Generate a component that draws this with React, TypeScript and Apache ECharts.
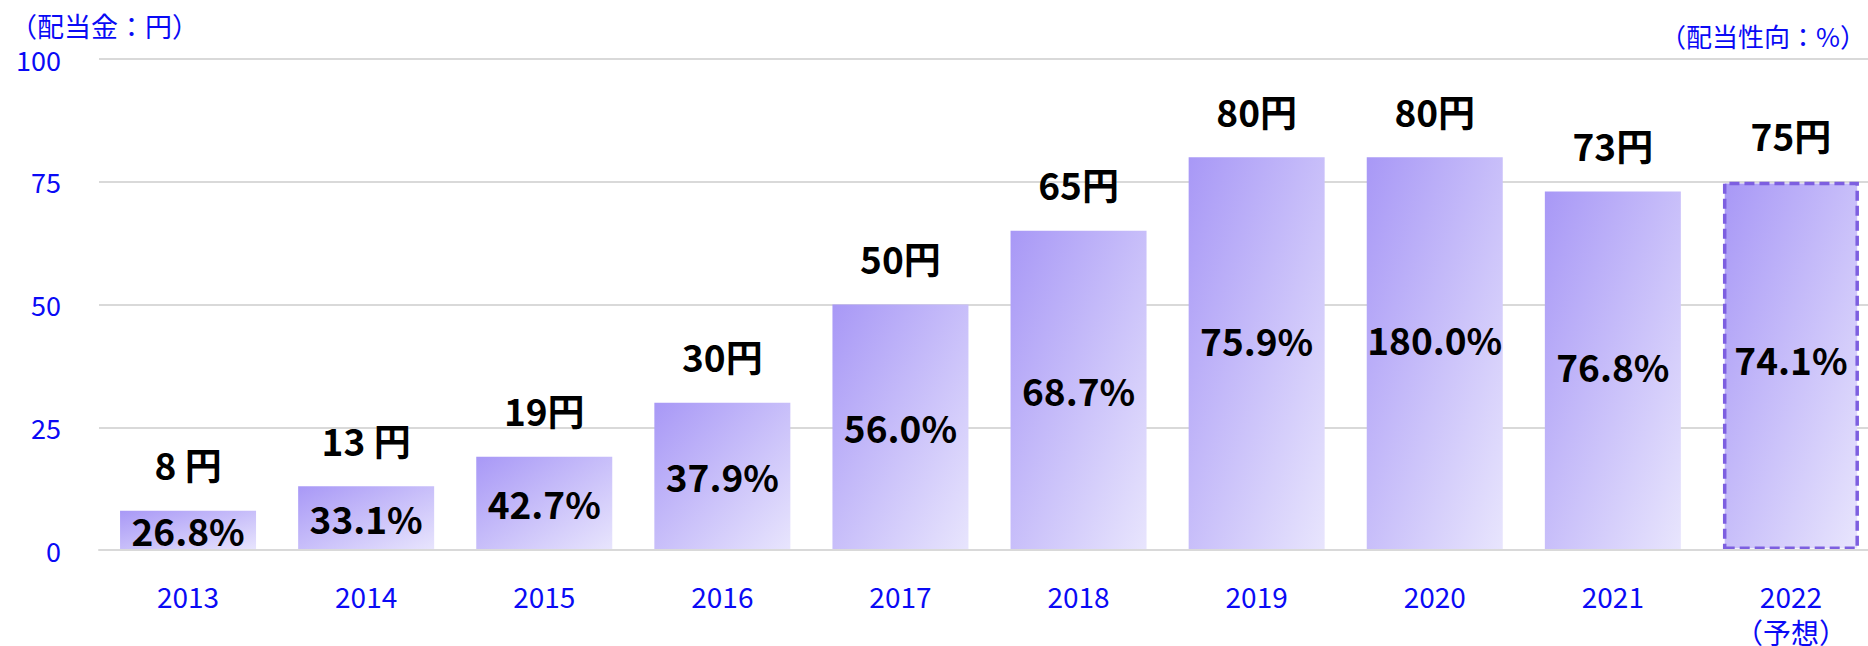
import React, { useEffect, useRef } from "react";
import * as echarts from "echarts";

const years = ["2013", "2014", "2015", "2016", "2017", "2018", "2019", "2020", "2021", "2022\n（予想）"];
const dividends = [8, 13, 19, 30, 50, 65, 80, 80, 73, 75];
const dividendLabels = ["8 円", "13 円", "19円", "30円", "50円", "65円", "80円", "80円", "73円", "75円"];
const payoutRatios = ["26.8%", "33.1%", "42.7%", "37.9%", "56.0%", "68.7%", "75.9%", "180.0%", "76.8%", "74.1%"];
const yTicks = { min: 0, max: 100, interval: 25 };
const forecastIndex = 9;

const FONT = '"Noto Sans CJK JP", "Noto Sans", sans-serif';
const BLUE = "#0a0af5";

// small vertical nudges of the in-bar ratio labels, as in the reference
const ratioLabelNudge: Record<number, number> = { 6: -14, 7: -15, 8: -5, 9: -7 };

export default function App() {
  const ref = useRef<HTMLDivElement>(null);
  useEffect(() => {
    document.body.style.margin = "0";
    if (!ref.current) return;
    const chart = echarts.init(ref.current, null, { renderer: "svg" });
    const grad = () =>
      new echarts.graphic.LinearGradient(0, 0, 1, 1, [
        { offset: 0, color: "#a898f6" },
        { offset: 1, color: "#e8e5fd" },
      ]);
    const mainData = dividends.map((v, i) => {
      const item: any = { value: v, itemStyle: { color: grad() } };
      if (ratioLabelNudge[i] !== undefined) {
        item.label = { offset: [0, ratioLabelNudge[i]] };
      }
      if (i === forecastIndex) {
        item.itemStyle = {
          color: grad(),
          borderColor: "#7d5fe0",
          borderWidth: 3.5,
          borderType: [10, 5],
        };
      }
      return item;
    });
    chart.setOption({
      animation: false,
      textStyle: { fontFamily: FONT },
      grid: {
        left: 99,
        right: -12,
        top: 59,
        bottom: 96,
        containLabel: false,
        outerBoundsMode: "none",
      },
      graphic: [
        {
          type: "text",
          left: 10,
          top: 12,
          style: { text: "（配当金：円）", fill: BLUE, font: `27px ${FONT}` },
        },
        {
          type: "text",
          right: 2,
          top: 22,
          style: { text: "（配当性向：%）", fill: BLUE, font: `26px ${FONT}` },
        },
      ],
      xAxis: {
        type: "category",
        data: years,
        z: 10,
        axisLine: { show: true, lineStyle: { color: "#d9d9d9", width: 2 } },
        axisTick: { show: false },
        axisLabel: {
          color: BLUE,
          fontSize: 28,
          lineHeight: 36,
          margin: 28,
          fontFamily: FONT,
        },
      },
      yAxis: {
        type: "value",
        min: yTicks.min,
        max: yTicks.max,
        interval: yTicks.interval,
        axisLine: { show: false },
        axisTick: { show: false },
        axisLabel: { color: BLUE, fontSize: 27, margin: 38, fontFamily: FONT },
        splitLine: { lineStyle: { color: "#d9d9d9", width: 2 } },
      },
      series: [
        {
          type: "bar",
          data: mainData,
          barWidth: 136,
          label: {
            show: true,
            position: "inside",
            formatter: (p: any) => payoutRatios[p.dataIndex],
            color: "#000",
            fontSize: 37,
            fontWeight: "bold",
            fontFamily: FONT,
          },
        },
        {
          type: "bar",
          data: dividends,
          barWidth: 136,
          barGap: "-100%",
          itemStyle: { color: "rgba(0,0,0,0)" },
          silent: true,
          label: {
            show: true,
            position: "top",
            distance: 28,
            formatter: (p: any) => dividendLabels[p.dataIndex],
            color: "#000",
            fontSize: 37,
            fontWeight: "bold",
            fontFamily: FONT,
          },
        },
      ],
    });
    return () => chart.dispose();
  }, []);
  return <div ref={ref} style={{ width: 1868, height: 646 }} />;
}
